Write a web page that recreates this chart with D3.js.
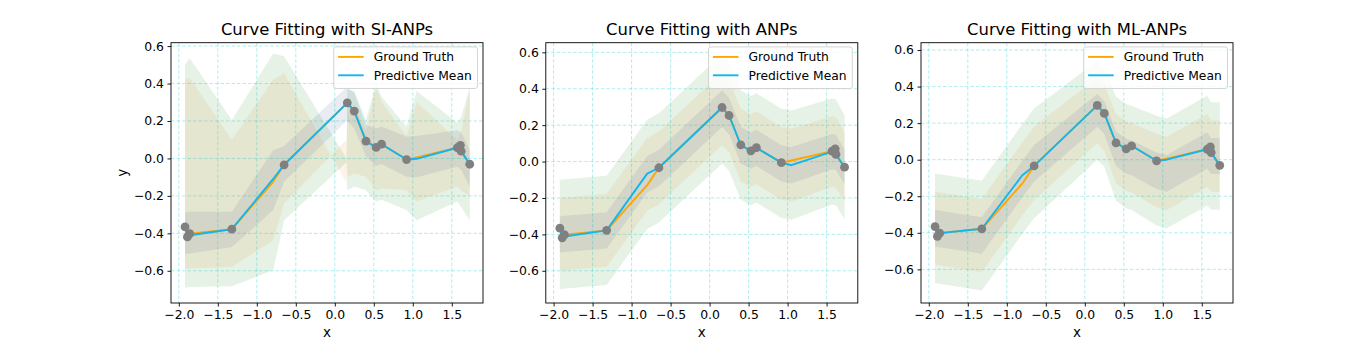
<!DOCTYPE html>
<html>
<head>
<meta charset="utf-8">
<script src="https://cdn.jsdelivr.net/npm/d3@7"></script>
<style>
body { margin: 0; background: #fff; }
svg { display: block; font-family: "DejaVu Sans", sans-serif; }
</style>
</head>
<body>
<svg id="svg" width="1370" height="341"></svg>
<script>
"use strict";

// shared axes
const xDomain = [-2.10, 1.90];
const xTicks = [-2.0, -1.5, -1.0, -0.5, 0.0, 0.5, 1.0, 1.5];
const yTicks = [-0.6, -0.4, -0.2, 0.0, 0.2, 0.4, 0.6];
const titles = ["Curve Fitting with SI-ANPs", "Curve Fitting with ANPs", "Curve Fitting with ML-ANPs"];
const yDomains = [[-0.772, 0.618], [-0.777, 0.653], [-0.784, 0.640]];

// target points, ground truth and predictive means
const targetX = [-1.92, -1.89, -1.86, -1.32, -0.80, -0.65, 0.16, 0.25, 0.40, 0.53, 0.60, 0.92, 1.05, 1.57, 1.61, 1.62, 1.73];
const groundTruth = [-0.366, -0.419, -0.402, -0.378, -0.130, -0.034, 0.297, 0.253, 0.092, 0.059, 0.076, -0.006, 0.006, 0.057, 0.070, 0.039, -0.031];
const siMean = [-0.366, -0.415, -0.410, -0.378, -0.115, -0.034, 0.297, 0.253, 0.092, 0.059, 0.076, -0.006, -0.002, 0.057, 0.070, 0.039, -0.031];
const anpMean = [-0.366, -0.419, -0.412, -0.378, -0.066, -0.034, 0.297, 0.253, 0.090, 0.059, 0.076, -0.006, -0.020, 0.055, 0.068, 0.039, -0.031];
const mlMean = [-0.366, -0.419, -0.402, -0.378, -0.085, -0.034, 0.297, 0.253, 0.092, 0.059, 0.076, -0.006, 0.000, 0.057, 0.070, 0.039, -0.031];

// context points
const contextX = [-1.92, -1.89, -1.86, -1.32, -0.65, 0.16, 0.25, 0.40, 0.53, 0.60, 0.92, 1.57, 1.61, 1.62, 1.73];
const contextY = [-0.366, -0.419, -0.402, -0.378, -0.034, 0.297, 0.253, 0.092, 0.059, 0.076, -0.006, 0.057, 0.070, 0.039, -0.031];

// SI-ANPs uncertainty bands
const siBandX = [-1.92, -1.86, -1.32, -0.79, -0.65, 0.15, 0.16, 0.25, 0.40, 0.53, 0.60, 0.92, 1.05, 1.57, 1.62, 1.73];
const siOuterLo = [-0.690, -0.687, -0.683, -0.597, -0.330, -0.020, -0.170, -0.150, -0.170, -0.230, -0.220, -0.276, -0.330, -0.230, -0.260, -0.330];
const siOuterHi = [0.500, 0.535, 0.205, 0.560, 0.545, 0.000, 0.370, 0.360, 0.205, 0.400, 0.330, 0.170, 0.360, 0.190, 0.220, 0.380];
const siMidLo = [-0.590, -0.588, -0.580, -0.437, -0.240, 0.100, -0.100, -0.080, -0.098, -0.170, -0.160, -0.170, -0.230, -0.150, -0.170, -0.200];
const siMidHi = [0.420, 0.430, 0.100, 0.420, 0.455, -0.130, 0.280, 0.270, 0.150, 0.380, 0.300, 0.120, 0.300, 0.100, 0.140, 0.360];
const siInnerLo = [-0.510, -0.508, -0.473, -0.276, -0.125, 0.200, 0.200, 0.160, 0.010, -0.040, -0.030, -0.098, -0.100, -0.045, -0.060, -0.150];
const siInnerHi = [-0.290, -0.285, -0.285, 0.044, 0.066, 0.380, 0.380, 0.350, 0.178, 0.160, 0.170, 0.116, 0.120, 0.150, 0.140, 0.044];

// ANPs uncertainty bands
const anpBandX = [-1.92, -1.32, -0.80, -0.65, 0.16, 0.25, 0.40, 0.53, 0.60, 0.92, 1.05, 1.57, 1.62, 1.73];
const anpOuterLo = [-0.700, -0.678, -0.370, -0.335, -0.010, -0.050, -0.210, -0.240, -0.225, -0.310, -0.320, -0.236, -0.241, -0.315];
const anpOuterHi = [-0.100, -0.078, 0.230, 0.265, 0.590, 0.550, 0.390, 0.360, 0.375, 0.290, 0.280, 0.346, 0.341, 0.255];
const anpMidLo = [-0.600, -0.578, -0.270, -0.235, 0.090, 0.050, -0.110, -0.140, -0.125, -0.210, -0.220, -0.139, -0.144, -0.220];
const anpMidHi = [-0.200, -0.178, 0.130, 0.165, 0.490, 0.450, 0.290, 0.260, 0.275, 0.190, 0.180, 0.249, 0.244, 0.160];
const anpInnerLo = [-0.500, -0.478, -0.170, -0.135, 0.190, 0.150, -0.010, -0.040, -0.025, -0.110, -0.120, -0.042, -0.047, -0.125];
const anpInnerHi = [-0.300, -0.278, 0.030, 0.065, 0.390, 0.350, 0.190, 0.160, 0.175, 0.090, 0.080, 0.152, 0.147, 0.065];

// ML-ANPs uncertainty bands
const mlBandX = [-1.92, -1.32, -0.80, -0.65, 0.16, 0.25, 0.40, 0.53, 0.60, 0.92, 1.05, 1.57, 1.62, 1.73];
const mlOuterLo = [-0.675, -0.715, -0.405, -0.320, 0.000, -0.040, -0.225, -0.265, -0.275, -0.360, -0.375, -0.250, -0.274, -0.274];
const mlOuterHi = [-0.075, -0.115, 0.195, 0.280, 0.540, 0.500, 0.345, 0.305, 0.295, 0.240, 0.225, 0.350, 0.314, 0.314];
const mlMidLo = [-0.575, -0.615, -0.305, -0.220, 0.090, 0.050, -0.130, -0.170, -0.180, -0.260, -0.275, -0.150, -0.176, -0.176];
const mlMidHi = [-0.175, -0.215, 0.095, 0.180, 0.450, 0.410, 0.250, 0.210, 0.200, 0.140, 0.125, 0.250, 0.216, 0.216];
const mlInnerLo = [-0.475, -0.515, -0.205, -0.120, 0.180, 0.140, -0.035, -0.075, -0.085, -0.160, -0.175, -0.050, -0.078, -0.078];
const mlInnerHi = [-0.275, -0.315, -0.005, 0.080, 0.360, 0.320, 0.155, 0.115, 0.105, 0.040, 0.025, 0.150, 0.118, 0.118];

const legendLabels = ["Ground Truth", "Predictive Mean"];

// layout
const plotLefts = [171, 545.8, 921];
const plotTop = 42.7;
const plotWidth = 312;
const plotHeight = 260.3;
const truthColor = "#ffa500";
const meanColor = "#12b6ee";
const bandColors = ["rgba(0,128,0,0.10)", "rgba(230,150,60,0.12)", "rgba(60,90,140,0.115)"];

var panels = [
    { mean: siMean, bandX: siBandX, bands: [[siOuterLo, siOuterHi], [siMidLo, siMidHi], [siInnerLo, siInnerHi]] },
    { mean: anpMean, bandX: anpBandX, bands: [[anpOuterLo, anpOuterHi], [anpMidLo, anpMidHi], [anpInnerLo, anpInnerHi]] },
    { mean: mlMean, bandX: mlBandX, bands: [[mlOuterLo, mlOuterHi], [mlMidLo, mlMidHi], [mlInnerLo, mlInnerHi]] }
];

var svg = d3.select("svg");
var fmt = d3.format(".1f");

panels.forEach(function(p, k)
{
    var g = svg.append("g")
        .attr("transform", "translate(" + plotLefts[k] + "," + plotTop + ")");

    var x = d3.scaleLinear().domain(xDomain).range([0, plotWidth]);
    var y = d3.scaleLinear().domain(yDomains[k]).range([plotHeight, 0]);

    // bands
    p.bands.forEach(function(b, j)
    {
        var area = d3.area()
            .x(i => x(p.bandX[i]))
            .y0(i => y(b[0][i]))
            .y1(i => y(b[1][i]));
        g.append("path")
            .attr("d", area(d3.range(p.bandX.length)))
            .attr("fill", bandColors[j]);
    });

    // grid
    var grid = g.append("g")
        .attr("stroke", "rgba(0,200,200,0.32)")
        .attr("stroke-width", 1)
        .attr("stroke-dasharray", "3.5,2");
    grid.selectAll(".gx")
        .data(xTicks)
        .enter()
        .append("line")
            .attr("x1", d => x(d)).attr("x2", d => x(d))
            .attr("y1", 0).attr("y2", plotHeight);
    grid.selectAll(".gy")
        .data(yTicks)
        .enter()
        .append("line")
            .attr("x1", 0).attr("x2", plotWidth)
            .attr("y1", d => y(d)).attr("y2", d => y(d));

    // lines
    [[groundTruth, truthColor], [p.mean, meanColor]].forEach(function(s)
    {
        var line = d3.line()
            .x(i => x(targetX[i]))
            .y(i => y(s[0][i]));
        g.append("path")
            .attr("d", line(d3.range(targetX.length)))
            .attr("fill", "none")
            .attr("stroke", s[1])
            .attr("stroke-width", 1.9)
            .attr("stroke-linejoin", "round");
    });

    // context points
    g.selectAll(".dot")
        .data(d3.range(contextX.length))
        .enter()
        .append("circle")
            .attr("class", "dot")
            .attr("cx", i => x(contextX[i]))
            .attr("cy", i => y(contextY[i]))
            .attr("r", 4.4)
            .attr("fill", "#808080");

    // axes
    var xAxis = g.append("g")
        .attr("transform", "translate(0," + plotHeight + ")")
        .call(d3.axisBottom(x).tickValues(xTicks).tickSize(3.5).tickPadding(4).tickFormat(fmt));
    var yAxis = g.append("g")
        .call(d3.axisLeft(y).tickValues(yTicks).tickSize(3.5).tickPadding(3.5).tickFormat(fmt));
    [xAxis, yAxis].forEach(function(a)
    {
        a.select(".domain").remove();
        a.attr("font-family", "DejaVu Sans").attr("font-size", 12.4);
        a.selectAll("line").attr("stroke", "#000").attr("stroke-width", 0.9);
        a.selectAll("text").attr("fill", "#000");
    });

    g.append("rect")
        .attr("width", plotWidth)
        .attr("height", plotHeight)
        .attr("fill", "none")
        .attr("stroke", "#000")
        .attr("stroke-width", 0.9);

    // titles and labels
    g.append("text")
        .attr("x", plotWidth / 2)
        .attr("y", -7.7)
        .attr("text-anchor", "middle")
        .attr("font-size", 16.4)
        .text(titles[k]);
    g.append("text")
        .attr("x", plotWidth / 2)
        .attr("y", 294)
        .attr("text-anchor", "middle")
        .attr("font-size", 13.5)
        .text("x");
    if (k === 0)
    {
        g.append("text")
            .attr("transform", "translate(-44.5," + plotHeight / 2 + ") rotate(-90)")
            .attr("text-anchor", "middle")
            .attr("font-size", 13.5)
            .text("y");
    }

    // legend
    var lw = 143.8, lh = 41.6;
    var leg = g.append("g")
        .attr("transform", "translate(" + (plotWidth - 5.5 - lw) + ",4.2)");
    leg.append("rect")
        .attr("width", lw)
        .attr("height", lh)
        .attr("rx", 2.5)
        .attr("fill", "rgba(255,255,255,0.8)")
        .attr("stroke", "#d0d0d0")
        .attr("stroke-width", 0.9);
    legendLabels.forEach(function(t, i)
    {
        var ly = 10 + i * 18.4;
        leg.append("line")
            .attr("x1", 4.4).attr("x2", 30)
            .attr("y1", ly).attr("y2", ly)
            .attr("stroke", i === 0 ? truthColor : meanColor)
            .attr("stroke-width", 1.9);
        leg.append("text")
            .attr("x", 40)
            .attr("y", ly + 4.5)
            .attr("font-size", 12.3)
            .text(t);
    });
});
</script>
</body>
</html>
